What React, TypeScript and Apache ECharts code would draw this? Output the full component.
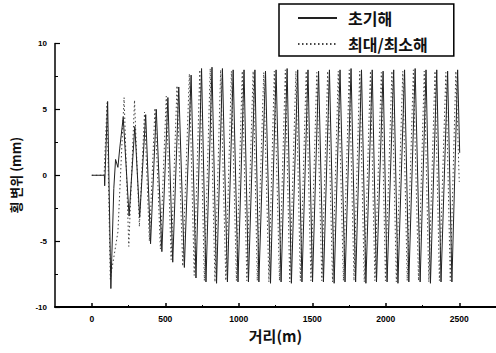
import React, { useEffect, useRef } from "react";
import * as echarts from "echarts";

const seriesNames = ["초기해", "최대/최소해"];

// 초기해: extrema (distance m, displacement mm)
const initialX = [0, 86, 88, 108, 130, 150, 162, 178, 190, 214, 254, 293, 326, 367, 400, 439, 477, 518, 551, 592, 630, 676, 709, 747, 777, 818, 849, 889, 923, 962, 995, 1036, 1066, 1110, 1137, 1182, 1216, 1254, 1288, 1329, 1358, 1401, 1430, 1471, 1502, 1543, 1576, 1617, 1649, 1689, 1723, 1764, 1795, 1835, 1865, 1908, 1937, 1982, 2009, 2054, 2083, 2128, 2157, 2200, 2234, 2274, 2304, 2347, 2376, 2421, 2450, 2489, 2503];
const initialY = [0, 0, -0.8, 5.6, -8.6, -1.0, 1.2, 0.6, 2.0, 4.4, -3.1, 3.7, -3.2, 4.6, -5.2, 5.0, -5.8, 5.9, -6.6, 6.7, -7.0, 7.6, -7.8, 8.1, -8.1, 8.2, -8.2, 8.1, -8.1, 8.0, -8.1, 8.0, -8.1, 8.0, -8.1, 7.9, -8.2, 8.0, -8.1, 8.1, -8.2, 8.0, -8.1, 8.0, -8.1, 7.9, -8.1, 8.0, -8.2, 8.0, -8.1, 8.1, -8.1, 8.0, -8.2, 8.0, -8.1, 7.9, -8.1, 8.0, -8.2, 8.0, -8.1, 8.1, -8.1, 8.0, -8.2, 8.0, -8.1, 7.9, -8.1, 8.0, 1.7];

// 최대/최소해
const extremeX = [0, 84, 104, 126, 178, 220, 252, 291, 324, 359, 392, 430, 467, 507, 540, 580, 619, 664, 697, 735, 766, 806, 838, 877, 912, 950, 984, 1024, 1055, 1098, 1126, 1170, 1205, 1242, 1277, 1317, 1347, 1389, 1419, 1459, 1491, 1531, 1565, 1605, 1638, 1677, 1712, 1752, 1784, 1823, 1854, 1896, 1926, 1970, 1998, 2042, 2072, 2116, 2146, 2188, 2223, 2262, 2293, 2335, 2365, 2409, 2439, 2477, 2500];
const extremeY = [0, 0, 5.5, -7.9, -4.3, 5.9, -5.4, 5.7, -3.9, 4.8, -5.0, 5.1, -5.6, 6.0, -6.4, 6.8, -6.9, 7.7, -7.6, 8.0, -8.0, 8.1, -8.1, 8.0, -8.0, 7.9, -8.0, 7.9, -8.0, 7.9, -8.0, 7.8, -8.1, 7.9, -8.0, 8.0, -8.1, 7.9, -8.0, 7.9, -8.0, 7.8, -8.0, 7.9, -8.1, 7.9, -8.0, 8.0, -8.0, 7.9, -8.1, 7.9, -8.0, 7.8, -8.0, 7.9, -8.1, 7.9, -8.0, 8.0, -8.0, 7.9, -8.1, 7.9, -8.0, 7.8, -8.0, 7.9, -0.5];

const xMajorTicks = [0, 500, 1000, 1500, 2000, 2500];
const xMinorTicks = [250, 750, 1250, 1750, 2250];
const xMin = -250;
const xMax = 2750;
const yMin = -10;
const yMax = 10;
const yInterval = 5;

const xName = "거리(m)";
const yName = "횡 변위 (mm)";

const numFont = "'Liberation Sans', Arial, sans-serif";
const krFont = "'Noto Sans CJK KR', 'Liberation Sans', sans-serif";

export default function App() {
  const ref = useRef<HTMLDivElement>(null);
  useEffect(() => {
    if (!ref.current) return;
    const chart = echarts.init(ref.current, undefined, { renderer: "svg" });
    const zip = (xs: number[], ys: number[]) => xs.map((x, i) => [x, ys[i]]);
    const grid = { left: 55, top: 43.5, width: 444, height: 263.5 };
    chart.setOption({
      animation: false,
      backgroundColor: "#ffffff",
      grid,
      legend: {
        left: 279,
        top: 4,
        orient: "vertical",
        backgroundColor: "#fff",
        borderColor: "#000",
        borderWidth: 1.5,
        borderRadius: 0,
        padding: [6, 26, 4, 18],
        itemWidth: 39,
        itemHeight: 14,
        itemGap: 10,
        data: seriesNames,
        itemStyle: { opacity: 0 },
        textStyle: {
          fontFamily: krFont,
          fontWeight: "bold",
          fontSize: 16,
          lineHeight: 16,
          color: "#111",
          padding: [0, 0, 0, 6],
        },
      },
      xAxis: [
        {
          type: "value",
          min: xMin,
          max: xMax,
          name: xName,
          nameLocation: "middle",
          nameGap: 16,
          nameTextStyle: {
            fontFamily: krFont,
            fontWeight: "bold",
            fontSize: 15,
            color: "#111",
          },
          axisLine: { show: true, onZero: false, lineStyle: { color: "#000", width: 2 } },
          axisTick: {
            show: true,
            inside: true,
            length: 4,
            customValues: xMajorTicks,
            lineStyle: { color: "#000", width: 1.5 },
          },
          axisLabel: {
            customValues: xMajorTicks,
            formatter: (v: number) => String(v),
            margin: 7,
            fontFamily: numFont,
            fontWeight: "bold",
            fontSize: 8.5,
            color: "#000",
          },
          splitLine: { show: false },
        },
        {
          type: "value",
          min: xMin,
          max: xMax,
          position: "bottom",
          axisLine: { show: false, onZero: false },
          axisTick: {
            show: true,
            inside: true,
            length: 2,
            customValues: xMinorTicks,
            lineStyle: { color: "#000", width: 1 },
          },
          axisLabel: { show: false },
          splitLine: { show: false },
        },
      ],
      yAxis: {
        type: "value",
        min: yMin,
        max: yMax,
        interval: yInterval,
        name: yName,
        nameLocation: "middle",
        nameGap: 33,
        nameTextStyle: {
          fontFamily: krFont,
          fontWeight: "bold",
          fontSize: 13,
          color: "#111",
        },
        axisLine: { show: true, onZero: false, lineStyle: { color: "#000", width: 1.5 } },
        axisTick: { show: true, inside: true, length: 5, lineStyle: { color: "#000", width: 1.2 } },
        minorTick: { show: true, splitNumber: 2, length: 3, lineStyle: { color: "#000", width: 1 } },
        axisLabel: {
          margin: 8,
          fontFamily: numFont,
          fontWeight: "bold",
          fontSize: 8,
          color: "#000",
        },
        splitLine: { show: false },
        minorSplitLine: { show: false },
      },
      series: [
        {
          name: seriesNames[0],
          type: "line",
          xAxisIndex: 0,
          data: zip(initialX, initialY),
          showSymbol: false,
          symbol: "none",
          itemStyle: { color: "#222" },
          lineStyle: { color: "#222", width: 1, type: "solid" },
          z: 3,
        },
        {
          name: seriesNames[1],
          type: "line",
          xAxisIndex: 0,
          data: zip(extremeX, extremeY),
          showSymbol: false,
          symbol: "none",
          itemStyle: { color: "#444" },
          lineStyle: { color: "#444", width: 1, type: [1.5, 2.5] },
          z: 2,
        },
      ],
    });
    return () => chart.dispose();
  }, []);
  return (
    <div
      ref={ref}
      style={{ position: "absolute", left: 0, top: 0, width: 496, height: 353, background: "#fff" }}
    />
  );
}
